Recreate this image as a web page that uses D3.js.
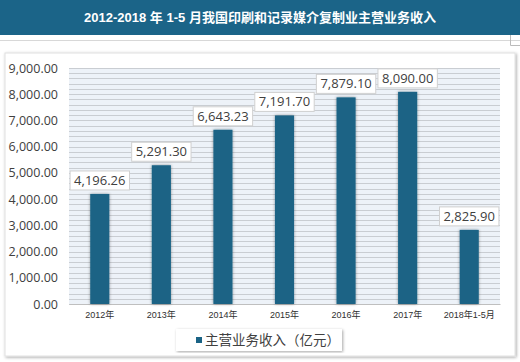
<!DOCTYPE html>
<html lang="zh">
<head>
<meta charset="utf-8">
<title>主营业务收入</title>
<script src="https://cdn.jsdelivr.net/npm/d3@7"></script>
<style>
  body { margin: 0; background: #fff; }
  svg { display: block; }
</style>
</head>
<body>
<script>
var categories = ["2012年", "2013年", "2014年", "2015年", "2016年", "2017年", "2018年1-5月"];
var values = [4196.26, 5291.30, 6643.23, 7191.70, 7879.10, 8090.00, 2825.90];
var yTicks = [0, 1000, 2000, 3000, 4000, 5000, 6000, 7000, 8000, 9000];
var seriesName = "主营业务收入（亿元）";
var title = "2012-2018 年 1-5 月我国印刷和记录媒介复制业主营业务收入";

var W = 520, H = 362;
var svg = d3.select("body").append("svg").attr("width", W).attr("height", H);

var defs = svg.append("defs");
var f = defs.append("filter").attr("id", "sh").attr("x", "-40%").attr("y", "-10%").attr("width", "180%").attr("height", "120%");
f.append("feDropShadow").attr("dx", 0).attr("dy", 0).attr("stdDeviation", 1.8).attr("flood-color", "#000").attr("flood-opacity", 0.4);
var f2 = defs.append("filter").attr("id", "psh").attr("x", "-5%").attr("y", "-5%").attr("width", "110%").attr("height", "110%");
f2.append("feDropShadow").attr("dx", 1).attr("dy", 1).attr("stdDeviation", 1.5).attr("flood-color", "#000").attr("flood-opacity", 0.35);

// title bar
svg.append("rect").attr("x", 0).attr("y", 0).attr("width", W).attr("height", 35).attr("fill", "#1b6488");
svg.append("text").attr("x", 260).attr("y", 22).attr("text-anchor", "middle")
  .attr("fill", "#fff").attr("font-family", "Liberation Sans, Noto Sans CJK SC, sans-serif")
  .attr("font-size", 13).attr("font-weight", "bold").text(title);
svg.append("line").attr("x1", 0).attr("x2", W).attr("y1", 40.5).attr("y2", 40.5).attr("stroke", "#d8d8d8");
svg.append("path").attr("d", "M510.5,35 V45.5 H520").attr("fill", "none").attr("stroke", "#bbb");

// panel
svg.append("rect").attr("x", 5).attr("y", 53).attr("width", 510).attr("height", 303)
  .attr("fill", "#fff").attr("stroke", "#e0e0e0").attr("filter", "url(#psh)");

var x = d3.scaleBand().domain(categories).range([69, 500]).paddingInner(0.69).paddingOuter(0.345);
var y = d3.scaleLinear().domain([0, 9000]).range([304, 68]);

// striped background with minor gridlines
svg.append("rect").attr("x", 69).attr("y", 68).attr("width", 431).attr("height", 236).attr("fill", "#edf2f8");
svg.append("g").selectAll("line").data(d3.range(0, 9001, 200)).join("line")
  .attr("x1", 69).attr("x2", 500)
  .attr("y1", function(d) { return Math.round(y(d)) + 0.5; })
  .attr("y2", function(d) { return Math.round(y(d)) + 0.5; })
  .attr("stroke", "#c9cdd2").attr("stroke-width", 1);

// y axis
var yAxis = svg.append("g").attr("transform", "translate(69,0)")
  .call(d3.axisLeft(y).tickValues(yTicks).tickSize(0).tickPadding(11)
    .tickFormat(function(d) { return d3.format(",.2f")(d); }));
yAxis.select(".domain").remove();
yAxis.selectAll("text").attr("font-family", "Open Sans, Liberation Sans, sans-serif")
  .attr("font-size", 12.5).attr("fill", "#404040");

// x axis
var xAxis = svg.append("g").attr("transform", "translate(0,304)")
  .call(d3.axisBottom(x).tickSize(0).tickPadding(8));
xAxis.select(".domain").attr("stroke", "#bfbfbf");
xAxis.selectAll("text").attr("font-family", "Liberation Sans, Noto Sans CJK SC, sans-serif")
  .attr("font-size", 9).attr("fill", "#303030");

// bars
svg.append("g").selectAll("rect").data(values).join("rect")
  .attr("x", function(d, i) { return x(categories[i]); })
  .attr("y", function(d) { return y(d); })
  .attr("width", x.bandwidth())
  .attr("height", function(d) { return y(0) - y(d); })
  .attr("fill", "#1a6385")
  .attr("filter", "url(#sh)");

// value labels
var fmt = d3.format(",.2f");
var lab = svg.append("g").selectAll("g").data(values).join("g")
  .attr("transform", function(d, i) {
    return "translate(" + (x(categories[i]) + x.bandwidth() / 2) + "," + (y(d) - 4) + ")";
  });
lab.append("rect").attr("fill", "#fff").attr("stroke", "#d0d0d0");
lab.append("text").attr("x", 0).attr("y", -5).attr("text-anchor", "middle")
  .attr("font-family", "Open Sans, Liberation Sans, sans-serif").attr("font-size", 13)
  .attr("fill", "#404040").text(function(d) { return fmt(d); });
lab.each(function() {
  var g = d3.select(this);
  var w = g.select("text").node().getComputedTextLength() + 8;
  g.select("rect").attr("x", -w / 2).attr("y", -19).attr("width", w).attr("height", 19);
});

// legend
var lg = svg.append("g").attr("transform", "translate(176,329)");
lg.append("rect").attr("width", 166).attr("height", 22).attr("fill", "#fff")
  .attr("filter", "url(#psh)");
lg.append("rect").attr("x", 20).attr("y", 8).attr("width", 6).attr("height", 6).attr("fill", "#1a6385");
lg.append("text").attr("x", 29).attr("y", 16).attr("font-family", "Noto Sans CJK SC, sans-serif")
  .attr("font-size", 13.5).attr("fill", "#404040").text(seriesName);
</script>
</body>
</html>
